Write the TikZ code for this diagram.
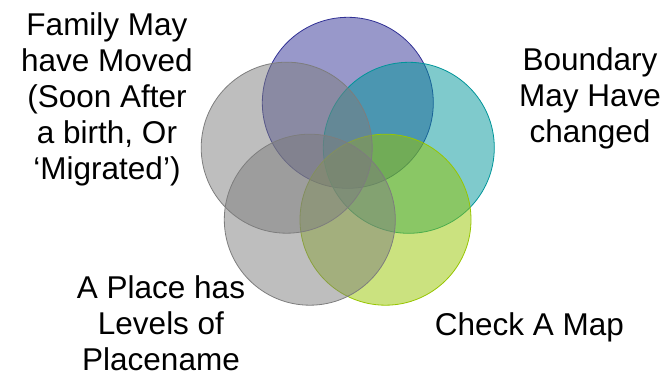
\documentclass[tikz,border=0pt]{standalone}
\usepackage{fontspec}
\setmainfont{Liberation Sans}
\usepackage{tikz}
\usepackage{xcolor}
\definecolor{vennpurple}{RGB}{49,49,149}
\definecolor{venntealfill}{RGB}{0,149,153}
\definecolor{vennlime}{RGB}{151,197,0}
\definecolor{venngray}{RGB}{125,125,125}
\tikzset{%
	every venn/.style={
		circle,
		minimum size=171pt,
		inner sep=0pt,
		fill opacity=0.5,
		line width=0.8pt
	},
	venn label/.style={
		align=center,
		inner sep=0pt,
		font=\fontsize{31.5}{36}\selectfont
	},
}

\begin{document}
\begin{tikzpicture}[x=1pt,y=-1pt]
			\useasboundingbox (0,0) rectangle (672,377);
			
			% Circles
			\node[every venn, fill=vennpurple, draw=vennpurple] (moved) at (347.8,102.8) {};
			\node[every venn, fill=venntealfill, draw=venntealfill] (boundary) at (408.8,147.8) {};
			\node[every venn, fill=vennlime, draw=vennlime] (map) at (385.5,219.7) {};
			\node[every venn, fill=venngray, draw=venngray] (levels) at (309.8,219.7) {};
			\node[every venn, fill=venngray, draw=venngray] (family) at (286.7,147.7) {};
			
			% Labels
			\node[venn label] (familytext) at (107,99.5) {Family May\\have Moved\\(Soon After\\a birth, Or\\‘Migrated’)};
			\node[venn label] (boundarytext) at (590,98) {Boundary\\May Have\\changed};
			\node[venn label] (levelstext) at (161,323.5) {A Place has\\Levels of\\Placename};
			\node[venn label, anchor=base] (maptext) at (529.5,335) {Check A Map};
		\end{tikzpicture}
\end{document}
